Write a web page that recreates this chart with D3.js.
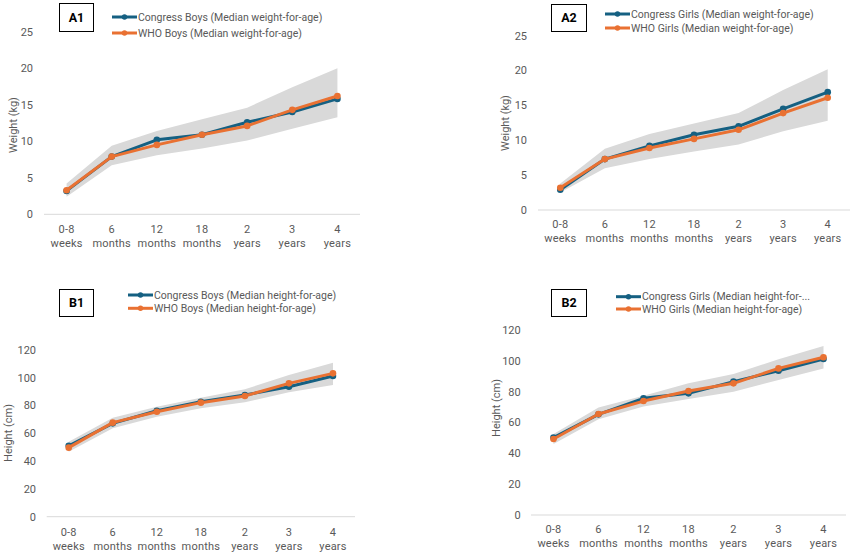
<!DOCTYPE html>
<html><head><meta charset="utf-8">
<script src="https://cdn.jsdelivr.net/npm/d3@7"></script>
<style>
body{margin:0;background:#fff;}
svg{display:block;font-family:Roboto,"Open Sans",sans-serif;}
</style></head>
<body><svg id="c" width="856" height="554"></svg>
<script>
const categories = [["0-8","weeks"],["6","months"],["12","months"],["18","months"],["2","years"],["3","years"],["4","years"]];
const weightTicks = [0,5,10,15,20,25];
const heightTicks = [0,20,40,60,80,100,120];

// A1 weight boys
const congressBoysWeight = [3.2, 7.9, 10.2, 10.9, 12.6, 14.0, 15.8];
const whoBoysWeight      = [3.3, 7.9, 9.5, 10.9, 12.1, 14.3, 16.2];
const boysWeightUpper    = [4.2, 9.4, 11.4, 13.0, 14.6, 17.4, 20.0];
const boysWeightLower    = [2.4, 6.7, 8.1, 9.0, 10.1, 11.7, 13.3];
// A2 weight girls
const congressGirlsWeight = [2.9, 7.3, 9.2, 10.8, 12.0, 14.5, 16.9];
const whoGirlsWeight      = [3.2, 7.3, 8.9, 10.2, 11.5, 13.9, 16.1];
const girlsWeightUpper    = [3.8, 8.8, 10.9, 12.4, 13.9, 17.2, 20.2];
const girlsWeightLower    = [2.5, 6.0, 7.3, 8.4, 9.4, 11.3, 12.8];
// B1 height boys
const congressBoysHeight = [51.1, 67.2, 76.3, 82.8, 87.6, 93.6, 101.3];
const whoBoysHeight      = [49.7, 67.7, 75.6, 82.1, 86.9, 96.0, 103.2];
const boysHeightUpper    = [54.0, 71.3, 79.2, 85.7, 91.7, 102.0, 110.9];
const boysHeightLower    = [46.8, 63.6, 72.0, 78.0, 82.3, 89.5, 94.8];
// B2 height girls
const congressGirlsHeight = [50.2, 65.3, 75.7, 78.9, 86.5, 93.6, 101.2];
const whoGirlsHeight      = [49.3, 65.5, 73.9, 80.4, 85.4, 95.1, 102.3];
const girlsHeightUpper    = [52.5, 69.8, 77.4, 85.4, 91.5, 101.0, 109.6];
const girlsHeightLower    = [46.1, 62.1, 70.3, 75.2, 80.0, 87.6, 95.1];

const BLUE = "#156082", ORANGE = "#E97132", BAND = "#d9d9d9", TXT = "#595959";
const svg = d3.select("#c");

const panels = [
  {label:"A1", x0:44, x1:360, y0:214.3, y1:31.7, max:25, ticks:weightTicks, tickRight:33, cat1:229,
   title:"Weight (kg)", tx:13, ty:125, lx:112, ly:[17,33], box:[59,3,34,28],
   series:[congressBoysWeight, whoBoysWeight], upper:boysWeightUpper, lower:boysWeightLower,
   names:["Congress Boys (Median weight-for-age)","WHO Boys (Median weight-for-age)"]},
  {label:"A2", x0:538, x1:850, y0:210, y1:35.7, max:25, ticks:weightTicks, tickRight:527, cat1:224,
   title:"Weight (kg)", tx:505, ty:123, lx:605, ly:[14,28], box:[551,4,35,27],
   series:[congressGirlsWeight, whoGirlsWeight], upper:girlsWeightUpper, lower:girlsWeightLower,
   names:["Congress Girls (Median weight-for-age)","WHO Girls (Median weight-for-age)"]},
  {label:"B1", x0:46.7, x1:355, y0:516.7, y1:350, max:120, ticks:heightTicks, tickRight:36, cat1:531.7,
   title:"Height (cm)", tx:8, ty:433, lx:128, ly:[295,308.3], box:[59,289,34,27],
   series:[congressBoysHeight, whoBoysHeight], upper:boysHeightUpper, lower:boysHeightLower,
   names:["Congress Boys (Median height-for-age)","WHO Boys (Median height-for-age)"]},
  {label:"B2", x0:531, x1:846, y0:515, y1:330, max:120, ticks:heightTicks, tickRight:520.7, cat1:529.3,
   title:"Height (cm)", tx:496, ty:408, lx:616, ly:[296.7,309], box:[551,289,35,27],
   series:[congressGirlsHeight, whoGirlsHeight], upper:girlsHeightUpper, lower:girlsHeightLower,
   names:["Congress Girls (Median height-for-...","WHO Girls (Median height-for-age)"]}
];

panels.forEach(p => {
  const g = svg.append("g");
  const x = d3.scaleBand().domain(categories.map((c,i)=>i)).range([p.x0,p.x1]);
  const cx = i => x(i) + x.bandwidth()/2;
  const y = d3.scaleLinear().domain([0,p.max]).range([p.y0,p.y1]);

  const area = d3.area().x((d,i)=>cx(i)).y0((d,i)=>y(p.lower[i])).y1((d,i)=>y(p.upper[i]));
  g.append("path").datum(p.upper).attr("d", area).attr("fill", BAND);

  g.append("line").attr("x1",p.x0).attr("x2",p.x1).attr("y1",y(0)).attr("y2",y(0))
    .attr("stroke","#d9d9d9").attr("stroke-width",1);

  g.selectAll(".yt").data(p.ticks).join("text")
    .attr("x", p.tickRight).attr("y", d=>y(d)).attr("dy","0.35em")
    .attr("text-anchor","end").attr("fill",TXT).attr("font-size",11).text(d=>d);

  const xl = g.selectAll(".xl").data(categories).join("text")
    .attr("text-anchor","middle").attr("fill",TXT).attr("font-size",11).attr("letter-spacing",0.2);
  xl.append("tspan").attr("x",(d,i)=>cx(i)).attr("y",p.cat1).attr("dy","0.35em").text(d=>d[0]);
  xl.append("tspan").attr("x",(d,i)=>cx(i)).attr("y",p.cat1+14).attr("dy","0.35em").text(d=>d[1]);

  g.append("text").attr("transform",`translate(${p.tx},${p.ty}) rotate(-90)`)
    .attr("text-anchor","middle").attr("dy","0.35em").attr("fill",TXT).attr("font-size",11).text(p.title);

  const colors = [BLUE, ORANGE];
  const line = d3.line().x((d,i)=>cx(i)).y(d=>y(d));
  p.series.forEach((s,k)=>{
    g.append("path").datum(s).attr("d",line).attr("fill","none")
      .attr("stroke",colors[k]).attr("stroke-width",3).attr("stroke-linejoin","round");
    g.selectAll(".pt"+k).data(s).join("circle")
      .attr("cx",(d,i)=>cx(i)).attr("cy",d=>y(d)).attr("r",3.3).attr("fill",colors[k]);
  });

  p.names.forEach((n,k)=>{
    g.append("line").attr("x1",p.lx).attr("x2",p.lx+25).attr("y1",p.ly[k]).attr("y2",p.ly[k])
      .attr("stroke",colors[k]).attr("stroke-width",3);
    g.append("circle").attr("cx",p.lx+12.5).attr("cy",p.ly[k]).attr("r",2.7).attr("fill",colors[k]);
    g.append("text").attr("x",p.lx+26).attr("y",p.ly[k]).attr("dy","0.35em")
      .attr("fill",TXT).attr("font-size",10.5).text(n);
  });

  g.append("rect").attr("x",p.box[0]+0.5).attr("y",p.box[1]+0.5).attr("width",p.box[2]).attr("height",p.box[3])
    .attr("fill","#fff").attr("stroke","#000").attr("stroke-width",1);
  g.append("text").attr("x",p.box[0]+p.box[2]/2+0.5).attr("y",p.box[1]+p.box[3]/2+0.5).attr("dy","0.35em")
    .attr("text-anchor","middle").attr("font-weight","bold").attr("font-size",12.5).attr("fill","#000").text(p.label);
});
</script></body></html>
